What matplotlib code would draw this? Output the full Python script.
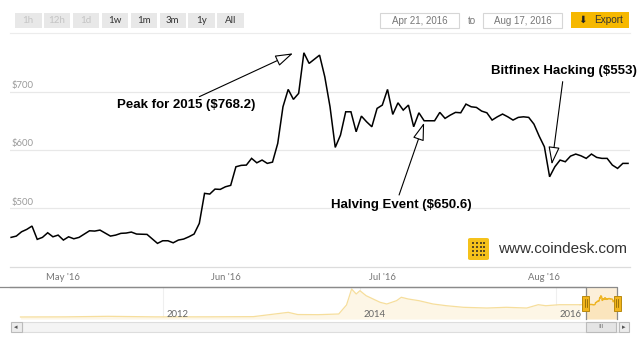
import numpy as np
import matplotlib
matplotlib.use("Agg")
import matplotlib.pyplot as plt
from matplotlib.patches import Rectangle, FancyBboxPatch
from matplotlib.lines import Line2D

# main series: days after 2016-04-21 and BPI close (USD)
day_offsets = [0, 1, 2, 3, 4, 5, 6, 7, 8, 9, 10, 11, 12, 13, 15, 16, 17, 19, 20, 21,
               22, 23, 24, 26, 28, 29, 30, 31, 32, 33, 34, 35, 36, 37, 38, 39, 40, 41,
               42, 43, 44, 45, 46, 47, 48, 49, 50, 51, 52, 53, 54, 55, 56, 57, 59, 60,
               61, 62, 63, 64, 65, 66, 67, 68, 69, 70, 71, 72, 73, 74, 75, 76, 77, 78,
               79, 81, 82, 83, 84, 85, 86, 87, 88, 89, 90, 91, 92, 93, 94, 95, 96, 97,
               98, 99, 100, 101, 102, 103, 104, 105, 106, 107, 108, 109, 110, 111, 112,
               113, 114, 115, 116, 117, 118]
prices = [450.3, 452.5, 459.9, 464.0, 469.7, 446.9, 450.3, 458.2, 451.3, 454.2, 445.7,
          451.3, 447.9, 450.3, 461.6, 461.1, 462.8, 452.5, 454.2, 457.2, 457.7, 459.4,
          456.0, 455.4, 440.0, 444.5, 444.5, 441.0, 445.7, 447.4, 451.3, 456.0, 474.3,
          525.8, 524.6, 533.1, 532.6, 537.1, 539.5, 571.4, 573.8, 574.3, 585.8, 578.2,
          582.9, 577.2, 579.4, 611.5, 674.3, 704.1, 687.0, 697.3, 766.9, 748.7, 762.9,
          725.7, 674.3, 604.6, 625.7, 665.7, 665.7, 631.4, 658.3, 648.5, 640.0, 671.5,
          677.2, 704.1, 661.2, 681.1, 668.6, 677.2, 640.0, 664.0, 650.3, 650.3, 664.7,
          654.4, 660.0, 664.7, 664.0, 678.9, 674.3, 673.2, 666.9, 664.0, 651.5, 657.1,
          661.8, 657.1, 651.5, 656.1, 657.1, 656.1, 644.6, 624.0, 605.7, 554.2, 571.4,
          582.9, 580.0, 589.7, 593.2, 590.2, 585.8, 593.2, 587.5, 585.8, 585.8, 574.3,
          568.6, 577.2, 577.2]

# navigator history before the selected range
nav_dates = ["2010-07-18", "2011-01-01", "2011-06-08", "2011-12-01", "2012-06-01",
             "2012-12-01", "2013-04-10", "2013-05-15", "2013-08-01", "2013-10-15",
             "2013-11-13", "2013-12-02", "2013-12-19", "2014-01-02", "2014-01-25",
             "2014-02-20", "2014-03-18", "2014-04-12", "2014-05-18", "2014-06-05",
             "2014-07-01", "2014-08-10", "2014-10-01", "2014-11-20", "2015-01-22",
             "2015-04-20", "2015-07-01", "2015-09-15", "2015-10-28", "2015-11-25",
             "2016-01-15", "2016-03-31"]
nav_values = [1, 5, 25, 5, 6, 13, 170, 90, 85, 110, 440, 1022, 840, 960, 777, 657, 537,
              475, 595, 720, 657, 595, 475, 412, 354, 328, 354, 328, 449, 412, 449, 449]

month_ticks = ["2016-05-01", "2016-06-01", "2016-07-01", "2016-08-01"]
month_labels = ["May '16", "Jun '16", "Jul '16", "Aug '16"]
y_ticks = [500, 600, 700]
nav_years = ["2012", "2014", "2016"]
range_buttons = ["1h", "12h", "1d", "1w", "1m", "3m", "1y", "All"]
button_enabled = [False, False, False, True, True, True, True, True]

events = [  # label, text pos (day, $), arrow start (day, $), arrow tip (day, $)
    ("Peak for 2015 ($768.2)", (33.4, 677), (36.0, 691.6), (53.9, 766.0)),
    ("Halving Event ($650.6)", (74.6, 506), (74.2, 523.0), (79.0, 647.0)),
    ("Bitfinex Hacking ($553)", (105.7, 736), (105.5, 717.4), (103.4, 575.3)),
]

W, H = 640, 351
start = np.datetime64("2016-04-21")
dates = start + np.array(day_offsets).astype("timedelta64[D]")


def day(d):
    return start + np.timedelta64(int(round(d * 24)), "h")


def fx(x):
    return x / W


def fy(y):
    return 1 - y / H


def box(x0, y0, x1, y1, fc, ec="none", lw=0.8):
    fig.add_artist(Rectangle((fx(x0), fy(y1)), (x1 - x0) / W, (y1 - y0) / H,
                             transform=fig.transFigure, fc=fc, ec=ec, lw=lw))


fig = plt.figure(figsize=(6.4, 3.51), dpi=100)
ui = "Lato"

# ---- top toolbar
for i, (lab, on) in enumerate(zip(range_buttons, button_enabled)):
    x0 = 15 + 28.9 * i
    box(x0, 12.5, x0 + 26.5, 28.3, "#e8e8e8")
    fig.text(fx(x0 + 13.2), fy(20.6), lab, ha="center", va="center", fontsize=7,
             family=ui, color="#333333" if on else "#c4c4c4")

box(380, 12.5, 459, 28.3, "white", "#d6d6d6")
box(483, 12.5, 562, 28.3, "white", "#d6d6d6")
fig.text(fx(419.5), fy(20.6), "Apr 21, 2016", ha="center", va="center", fontsize=7,
         family="Liberation Sans", color="#777777")
fig.text(fx(472), fy(20.6), "to", ha="center", va="center", fontsize=7,
         family="Liberation Sans", color="#777777")
fig.text(fx(522.5), fy(20.6), "Aug 17, 2016", ha="center", va="center", fontsize=7,
         family="Liberation Sans", color="#777777")
box(571, 12.3, 629, 28, "#f6b800")
fig.text(fx(583), fy(20.2), "\u2b07", ha="center", va="center", fontsize=7.5,
         family="DejaVu Sans", color="#222222")
fig.text(fx(594), fy(20.4), "Export", ha="left", va="center", fontsize=7.2,
         family="Liberation Sans", color="#333333")
fig.add_artist(Line2D([fx(10), fx(630)], [fy(33), fy(33)], color="#ececec", lw=0.8))

# ---- main chart
ax = fig.add_axes([fx(10), fy(266.7), 620 / W, (266.7 - 36) / H])
ax.set_xlim(day(-0.19), day(118.36))
ax.set_ylim(400, 795.7)
ax.axis("off")
for v in y_ticks:
    ax.axhline(v, color="#e8e8e8", lw=0.9, zorder=0)
    ax.text(0.002, v + 3, f"${v}", transform=ax.get_yaxis_transform(), ha="left",
            va="bottom", fontsize=6.8, family=ui, color="#9a9a9a")
ax.axhline(400, color="#dcdcdc", lw=0.9, zorder=0, clip_on=False)
for d, lab in zip(month_ticks, month_labels):
    ax.text(np.datetime64(d), -0.045, lab, transform=ax.get_xaxis_transform(),
            ha="center", va="center", fontsize=6.8, family=ui, color="#777777")

ax.plot(dates, prices, color="black", lw=1.1, solid_joinstyle="miter", zorder=3)

for label, tpos, apos, tip in events:
    ax.text(day(tpos[0]), tpos[1], label, ha="center", va="center", fontsize=9.5,
            family="Liberation Sans", weight="bold", zorder=5)
    ax.annotate("", xy=(day(tip[0]), tip[1]), xytext=(day(apos[0]), apos[1]),
                arrowprops=dict(arrowstyle="-|>,head_length=1.1,head_width=0.35",
                                fc="white", ec="black", lw=0.8, mutation_scale=10,
                                shrinkA=0, shrinkB=0), zorder=4)

# coindesk mark
fig.add_artist(FancyBboxPatch((fx(468), fy(260)), 21 / W, 22 / H,
                              boxstyle="round,pad=0,rounding_size=0.004",
                              transform=fig.transFigure, fc="#f5c21b", ec="none"))
for r in range(4):
    for c in range(4):
        box(472 + c * 3.8, 242 + r * 4, 474 + c * 3.8, 244 + r * 4, "#5a4a20")
fig.text(fx(498), fy(249), "www.coindesk.com", ha="left", va="center", fontsize=11,
         family="Liberation Sans", color="#333333")

# ---- navigator
nav = fig.add_axes([fx(10), fy(319), 618 / W, 32 / H])
nav.set_xlim(np.datetime64("2010-06-09"), np.datetime64("2016-09-26"))
nav.set_ylim(-73, 1095)
nav.axis("off")
for yr in nav_years:
    nav.axvline(np.datetime64(f"{yr}-01-01"), color="#efefef", lw=0.8, zorder=0)
    nav.annotate(yr, (np.datetime64(f"{yr}-01-01"), 0.14), xycoords=("data", "axes fraction"),
                 xytext=(2.5, 0), textcoords="offset points", ha="left", va="center",
                 fontsize=6.8, family=ui, color="#666666", zorder=4)
hd = np.array(nav_dates, dtype="datetime64[D]")
nav.fill_between(hd, -73, nav_values, color="#fdf6e6", lw=0, zorder=1)
nav.plot(hd, nav_values, color="#f6de9c", lw=0.9, zorder=2)
join_d = np.concatenate([hd[-1:], dates[:1]])
join_v = [nav_values[-1], prices[0]]
nav.plot(join_d, join_v, color="#f6de9c", lw=0.9, zorder=2)
nav.axvspan(dates[0], dates[-1], color="#fcefd9", lw=0, zorder=1)
nav.fill_between(dates, -73, prices, color="#fbe5bd", lw=0, zorder=2)
nav.plot(dates, prices, color="#eeb422", lw=1.0, zorder=3)

xt = nav.get_xaxis_transform()
x_lo, x_hi = nav.get_xlim()
nav.plot([x_lo, dates[0], dates[0]], [1, 1, 0], transform=xt, color="#8a8a8a",
         lw=0.9, clip_on=False, zorder=5)
nav.plot([dates[-1], dates[-1], x_hi], [0, 1, 1], transform=xt, color="#8a8a8a",
         lw=0.9, clip_on=False, zorder=5)
px_day = 98.1 / 365.25
for d in (dates[0], dates[-1]):
    hw = np.timedelta64(int(3.5 / px_day * 24), "h")
    nav.add_patch(Rectangle((d - hw, 0.25), 2 * hw, 15 / 32, transform=xt,
                            fc="#f2b51c", ec="#b98a10", lw=0.7, clip_on=False, zorder=6))
    for k in (-1, 1):
        off = np.timedelta64(int(k * 1.0 / px_day * 24), "h")
        nav.plot([d + off, d + off], [0.36, 0.62], transform=xt, color="#7a5a00",
                 lw=0.5, clip_on=False, zorder=7)

# ---- scrollbar
box(22, 321.7, 619, 332.3, "#f4f4f4", "#dddddd")
box(10.7, 321.7, 21.7, 332.3, "#ececec", "#bbbbbb")
fig.text(fx(16.2), fy(327), "\u25c2", ha="center", va="center", fontsize=5, color="#555555")
box(586, 321.7, 616, 332.3, "#e4e4e4", "#bbbbbb")
fig.text(fx(601), fy(327), "III", ha="center", va="center", fontsize=4.5, color="#777777")
box(619, 321.7, 628.5, 332.3, "#ececec", "#bbbbbb")
fig.text(fx(623.8), fy(327), "\u25b8", ha="center", va="center", fontsize=5, color="#555555")

fig.savefig("out.png", dpi=100, facecolor="white")
